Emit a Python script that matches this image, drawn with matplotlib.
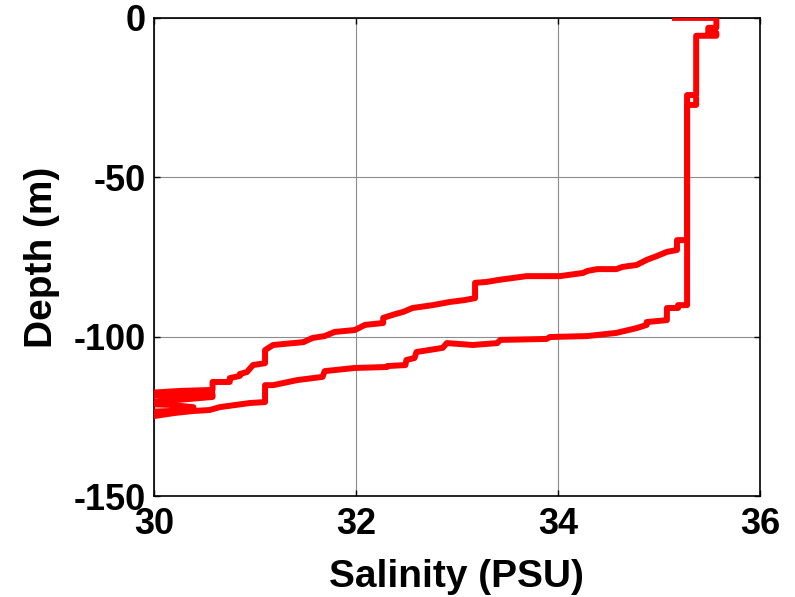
import numpy as np
import matplotlib.pyplot as plt

# Downcast: surface -> bottom (lower branch)
down_sal = [35.16, 35.57, 35.57, 35.49, 35.49, 35.57, 35.57, 35.37, 35.37, 35.28,
            35.28, 35.19, 35.19, 35.08, 35.08, 34.88, 34.88, 34.78, 34.58, 34.29,
            33.92, 33.89, 33.43, 33.40, 33.16, 32.90, 32.86, 32.60, 32.58, 32.50,
            32.49, 32.31, 32.31, 31.99, 31.69, 31.67, 31.42, 31.18, 31.10, 31.10,
            30.95, 30.65, 30.55, 30.39, 30.21, 30.00, 29.91,
            29.91, 30.16, 30.39, 30.39, 30.16, 29.91]
down_dep = [0.0, 0.0, -3.1, -3.1, -4.7, -4.7, -5.6, -5.6, -24.2, -24.2,
            -90.1, -90.1, -91.0, -91.0, -94.8, -95.4, -96.3, -97.3, -98.8, -99.8,
            -100.1, -100.7, -101.0, -102.0, -102.6, -102.0, -103.5, -104.8, -106.7, -107.3,
            -108.9, -109.2, -109.5, -109.8, -110.8, -112.6, -113.6, -115.2, -115.2, -120.5,
            -120.8, -122.1, -123.0, -123.3, -123.9, -124.9, -125.2,
            -123.6, -123.3, -122.7, -122.1, -121.4, -121.1]

# Upcast: bottom -> surface (upper branch)
up_sal = [29.91, 30.21, 30.58, 30.58, 30.26, 29.91, 29.91, 30.26, 30.58, 30.58,
          30.75, 30.75, 30.85, 30.85, 30.92, 30.98, 31.10, 31.10, 31.18, 31.48,
          31.57, 31.69, 31.79, 31.99, 32.09, 32.27, 32.27, 32.39, 32.47, 32.56,
          32.76, 32.93, 33.08, 33.18, 33.18, 33.30, 33.41, 33.69, 34.02, 34.25,
          34.29, 34.39, 34.58, 34.64, 34.78, 34.88, 34.98, 35.08, 35.18, 35.18,
          35.28, 35.28, 35.37, 35.37]
up_dep = [-120.8, -119.9, -118.9, -118.0, -118.3, -118.6, -117.7, -117.0, -116.7, -114.2,
          -114.2, -113.0, -112.3, -111.7, -111.1, -108.9, -108.3, -104.2, -102.6, -101.7,
          -100.4, -99.8, -98.5, -97.9, -96.3, -95.7, -94.1, -92.9, -92.2, -91.0,
          -90.1, -89.1, -88.5, -87.9, -83.1, -82.8, -82.2, -81.0, -81.0, -80.0,
          -79.4, -78.8, -78.8, -78.1, -77.5, -75.9, -74.7, -73.4, -72.8, -69.7,
          -69.7, -27.3, -27.3, -25.7]

xticks = [30, 32, 34, 36]
yticks = [-150, -100, -50, 0]

plt.rcParams['font.family'] = ['Liberation Sans', 'DejaVu Sans']
plt.rcParams['font.weight'] = 'bold'
plt.rcParams['axes.unicode_minus'] = False

fig = plt.figure(figsize=(7.95, 5.97), dpi=100)
ax = fig.add_axes([0.1937, 0.169, 0.762, 0.801])

ax.plot(down_sal, down_dep, color='#ff0000', lw=4.3, solid_joinstyle='round', zorder=3)
ax.plot(up_sal, up_dep, color='#ff0000', lw=4.3, solid_joinstyle='round', zorder=3)

ax.set_xlim(30, 36)
ax.set_ylim(-150, 0)
ax.set_xticks(xticks)
ax.set_yticks(yticks)
ax.grid(True, color='#8c8c8c', lw=0.8)
ax.set_axisbelow(True)
ax.tick_params(axis='both', direction='in', length=4, width=1, top=True, right=True,
               labelsize=26)
ax.tick_params(axis='x', pad=8)
ax.tick_params(axis='y', pad=6)
for lbl in ax.get_xticklabels() + ax.get_yticklabels():
    lbl.set_fontweight('bold')
for sp in ax.spines.values():
    sp.set_linewidth(1.2)

ax.set_xlabel('Salinity (PSU)', fontsize=28, fontweight='bold', labelpad=12)
ax.set_ylabel('Depth (m)', fontsize=28, fontweight='bold', labelpad=10)

fig.savefig('out.png', dpi=100)
